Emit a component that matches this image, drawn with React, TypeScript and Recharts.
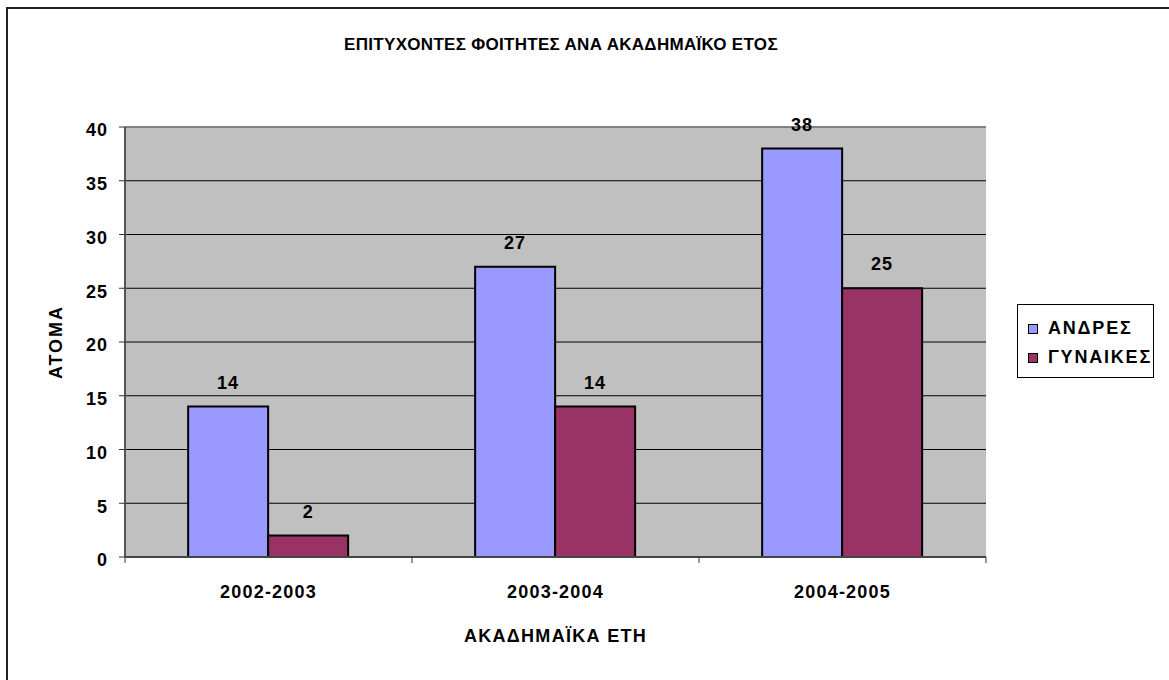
import { BarChart, Bar, XAxis, YAxis, CartesianGrid, Legend, LabelList, Label, ReferenceLine } from 'recharts';

// data
const categories = ['2002-2003', '2003-2004', '2004-2005'];
const andres = [14, 27, 38];
const gynaikes = [2, 14, 25];
const yTicks = [0, 5, 10, 15, 20, 25, 30, 35, 40];

const data = categories.map((year, i) => ({ year, andres: andres[i], gynaikes: gynaikes[i] }));

const W = 1169;
const H = 680;
const MARGIN = { top: 127, right: 183, left: 0, bottom: 0 };
const Y_W = 125;
const X_H = 123;
const BAND = (W - MARGIN.right - Y_W) / categories.length;
const FONT = '"Liberation Sans", Arial, sans-serif';

const XTick = ({ x, y, payload, index }: any) => {
  const half = BAND / 2;
  return (
    <g>
      <line x1={x - half} y1={y} x2={x - half} y2={y + 6} stroke="#333" />
      {index === categories.length - 1 && (
        <line x1={x + half} y1={y} x2={x + half} y2={y + 6} stroke="#333" />
      )}
      <text x={x} y={y + 41} textAnchor="middle" fontSize={18} letterSpacing={1.2} fontWeight="bold" fill="#000" fontFamily={FONT}>
        {payload.value}
      </text>
    </g>
  );
};

const LegendBox = ({ payload }: any) => (
  <div style={{ border: '1px solid #000', background: '#fff', width: 137, height: 74, boxSizing: 'border-box', padding: '12px 0 0 10px', fontFamily: FONT }}>
    {(payload || []).map((p: any) => (
      <div key={p.value} style={{ display: 'flex', alignItems: 'center', height: 35, marginTop: -6 }}>
        <span style={{ display: 'inline-block', width: 8, height: 8, background: p.color, border: '1.5px solid #000', marginRight: 10 }} />
        <span style={{ fontSize: 18, letterSpacing: 1.8, fontWeight: 'bold', color: '#000' }}>{p.value}</span>
      </div>
    ))}
  </div>
);

export default function App() {
  return (
    <div style={{ position: 'absolute', left: 0, top: 0, width: W, height: H, overflow: 'hidden', background: '#fff' }}>
      <div style={{ position: 'absolute', left: 6, top: 7, width: 1200, height: 700, borderTop: '2px solid #222', borderLeft: '2px solid #222' }} />
      <div style={{ position: 'absolute', left: 0, top: 35, width: 1122, textAlign: 'center', fontFamily: FONT, fontWeight: 'bold', fontSize: 17, letterSpacing: 0.3, lineHeight: '20px', color: '#000' }}>
        ΕΠΙΤΥΧΟΝΤΕΣ ΦΟΙΤΗΤΕΣ ΑΝΑ ΑΚΑΔΗΜΑΪΚΟ ΕΤΟΣ
      </div>
      <div style={{ position: 'absolute', left: 0, top: 0 }}>
        <BarChart width={W} height={H} data={data} margin={MARGIN} barCategoryGap="22%" barGap={0}>
          <CartesianGrid fill="#C0C0C0" vertical={false} stroke="#000" strokeOpacity={1} />
          <XAxis
            dataKey="year"
            height={X_H}
            tickSize={0}
            tickMargin={0}
            tickLine={false}
            axisLine={{ stroke: '#444', strokeWidth: 2 }}
            tick={<XTick />}
          >
            <Label
              content={() => (
                <text x={Y_W + (W - MARGIN.right - Y_W) / 2} y={642} textAnchor="middle" fontSize={18} letterSpacing={1.3} fontWeight="bold" fill="#000" fontFamily={FONT}>
                  ΑΚΑΔΗΜΑΪΚΑ ΕΤΗ
                </text>
              )}
            />
          </XAxis>
          <YAxis
            width={Y_W}
            domain={[0, 40]}
            ticks={yTicks}
            interval={0}
            tickSize={6}
            tickMargin={11}
            tickLine={{ stroke: '#333' }}
            axisLine={{ stroke: '#555', strokeWidth: 2 }}
            tick={{ fill: '#000', fontSize: 18, letterSpacing: 1, fontWeight: 'bold', fontFamily: FONT, dy: 3 }}
          >
            <Label
              content={() => (
                <text x={56} y={342} transform="rotate(-90, 56, 342)" textAnchor="middle" dominantBaseline="central" fontSize={18} letterSpacing={2} fontWeight="bold" fill="#000" fontFamily={FONT}>
                  ΑΤΟΜΑ
                </text>
              )}
            />
          </YAxis>
          <YAxis yAxisId="r" orientation="right" width={0} tick={false} tickLine={false} axisLine={{ stroke: '#808080', strokeWidth: 2 }} domain={[0, 40]} />
          <ReferenceLine y={40} stroke="#808080" strokeWidth={2} />
          <Legend
            layout="vertical"
            align="center"
            verticalAlign="middle"
            wrapperStyle={{ left: 1017, top: 304, width: 137, height: 74 }}
            content={<LegendBox />}
          />
          <Bar dataKey="andres" name="ΑΝΔΡΕΣ" fill="#9999FF" stroke="#000" strokeWidth={2} isAnimationActive={false}>
            <LabelList dataKey="andres" position="top" offset={18} fill="#000" fontSize={18} letterSpacing={1} fontWeight="bold" fontFamily={FONT} />
          </Bar>
          <Bar dataKey="gynaikes" name="ΓΥΝΑΙΚΕΣ" fill="#993366" stroke="#000" strokeWidth={2} isAnimationActive={false}>
            <LabelList dataKey="gynaikes" position="top" offset={18} fill="#000" fontSize={18} letterSpacing={1} fontWeight="bold" fontFamily={FONT} />
          </Bar>
        </BarChart>
      </div>
    </div>
  );
}
